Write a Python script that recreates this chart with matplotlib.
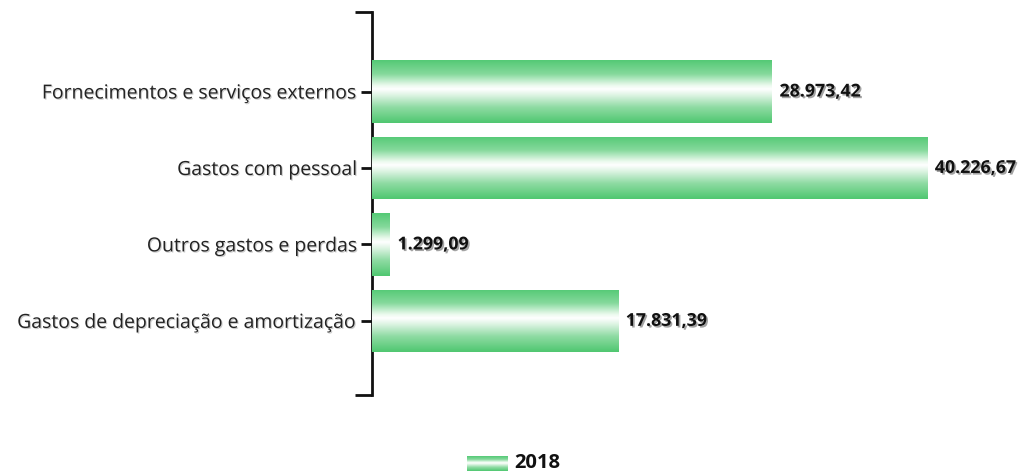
import numpy as np
import matplotlib
matplotlib.use("Agg")
import matplotlib.pyplot as plt
import matplotlib.patheffects as pe
from matplotlib.colors import LinearSegmentedColormap
from matplotlib.patches import Rectangle

categories = ["Fornecimentos e serviços externos", "Gastos com pessoal",
              "Outros gastos e perdas", "Gastos de depreciação e amortização"]
values_2018 = [28973.42, 40226.67, 1299.09, 17831.39]
value_labels = ["28.973,42", "40.226,67", "1.299,09", "17.831,39"]
series_name = "2018"

plt.rcParams['font.family'] = ['Open Sans', 'DejaVu Sans']

fig = plt.figure(figsize=(10.23, 4.75), dpi=100)
ax = fig.add_axes([372/1023, 1-395/475, (1000-372)/1023, (395-12)/475])

ypos = np.arange(len(categories))
bar_h = 0.82
bars = ax.barh(ypos, values_2018, height=bar_h, color='#6fd48c', edgecolor='none', zorder=2)

cmap = LinearSegmentedColormap.from_list("g", [
    (0.0, (0.33, 0.79, 0.46)),
    (0.22, (0.52, 0.85, 0.61)),
    (0.40, (0.92, 0.98, 0.93)),
    (0.46, (1.0, 1.0, 1.0)),
    (0.55, (0.88, 0.96, 0.90)),
    (0.75, (0.56, 0.86, 0.64)),
    (1.0, (0.31, 0.78, 0.44)),
])
grad = np.linspace(0, 1, 256).reshape(-1, 1)
for b in bars:
    x0, y0 = b.get_x(), b.get_y()
    w, h = b.get_width(), b.get_height()
    im = ax.imshow(grad, cmap=cmap, aspect='auto', extent=(x0, x0 + w, y0 + h, y0),
                   origin='upper', zorder=3, interpolation='bicubic')
    im.set_clip_path(b)

shadow = [pe.SimplePatchShadow(offset=(1.2, -1.2), shadow_rgbFace=(0.4, 0.4, 0.4), alpha=0.6), pe.Normal()]
for b, lab in zip(bars, value_labels):
    ax.text(b.get_width() + 550, b.get_y() + b.get_height() / 2, lab,
            va='center', ha='left', fontsize=12.8, fontweight='bold', color='#111111',
            path_effects=shadow, zorder=4)

ax.set_xlim(0, 45500)
ax.set_ylim(3.97, -1.04)
ax.set_yticks(ypos)
ax.set_yticklabels(categories, fontsize=14, color='#222222')
for t in ax.get_yticklabels():
    t.set_path_effects([pe.SimplePatchShadow(offset=(0.8, -0.8), shadow_rgbFace=(0.6, 0.6, 0.6), alpha=0.5), pe.Normal()])
ax.set_yticks([-1.04, 3.97], minor=True)
ax.tick_params(axis='y', which='major', direction='out', length=8, width=2, color='#111111', pad=2)
ax.tick_params(axis='y', which='minor', direction='out', length=12, width=2, color='#111111')
ax.tick_params(axis='x', which='both', bottom=False, labelbottom=False)
for s in ['top', 'right', 'bottom']:
    ax.spines[s].set_visible(False)
ax.spines['left'].set_linewidth(2)
ax.spines['left'].set_color('#111111')

# legend
lax = fig.add_axes([0, 0, 1, 1], facecolor='none')
lax.set_axis_off()
lax.set_xlim(0, 1023)
lax.set_ylim(475, 0)
lim = lax.imshow(grad, cmap=cmap, aspect='auto', extent=(467, 508, 471, 456), zorder=2)
rect = Rectangle((467, 456), 41, 15, transform=lax.transData, facecolor='none', edgecolor='none')
lax.add_patch(rect)
lim.set_clip_path(rect)
lax.text(514, 463.5, series_name, va='center', ha='left', fontsize=14.5, fontweight='bold', color='#111111')

fig.savefig("out.png", dpi=100)
